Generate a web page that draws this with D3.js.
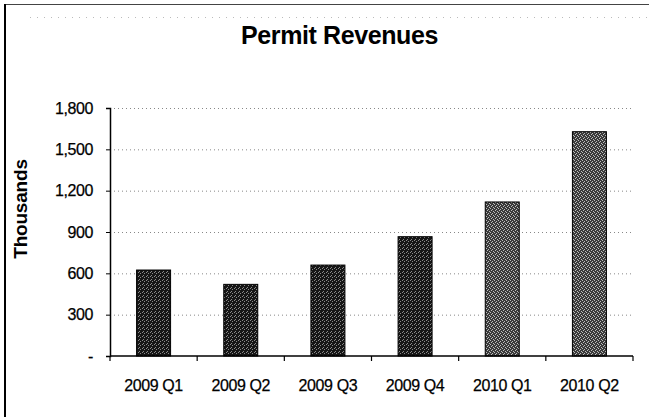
<!DOCTYPE html>
<html>
<head>
<meta charset="utf-8">
<script src="https://cdn.jsdelivr.net/npm/d3@7"></script>
<style>
  html, body { margin: 0; padding: 0; background: #fff; }
  svg { display: block; }
  text { font-family: "Liberation Sans", Arial, sans-serif; fill: #000; }
</style>
</head>
<body>
<svg id="chart" width="649" height="417"></svg>
<script>
// Quarterly permit revenues, in thousands
const quarters = ["2009 Q1", "2009 Q2", "2009 Q3", "2009 Q4", "2010 Q1", "2010 Q2"];
const revenues = [624, 520, 660, 866, 1118, 1628];
const shades   = ["dark", "dark", "dark", "dark", "light", "light"];
const yTicks   = [0, 300, 600, 900, 1200, 1500, 1800];

const svg = d3.select("#chart");
const margin = { top: 108, right: 16, bottom: 61, left: 110 };
const W = 649, H = 417;
const innerW = W - margin.left - margin.right;
const innerH = H - margin.top - margin.bottom;

// textured fills for the two bar shades
const defs = svg.append("defs");
function dither(id, base, speck, cells) {
  const p = defs.append("pattern").attr("id", id)
    .attr("patternUnits", "userSpaceOnUse").attr("width", 4).attr("height", 4);
  p.append("rect").attr("width", 4).attr("height", 4).attr("fill", base);
  cells.forEach(([cx, cy]) => p.append("rect").attr("x", cx).attr("y", cy)
    .attr("width", 1).attr("height", 1).attr("fill", speck));
}
dither("fillDark", "#161616", "#8a8a8a", [[0, 0], [2, 1], [1, 3]]);
dither("fillLight", "#3a3a3a", "#bdbdbd", [[0, 0], [2, 1], [3, 3], [1, 2]]);

// outer frame
svg.append("line").attr("x1", 5).attr("x2", W).attr("y1", 4.5).attr("y2", 4.5)
  .attr("stroke", "#444").attr("stroke-width", 1);
svg.append("line").attr("x1", 5).attr("x2", 5).attr("y1", 4).attr("y2", H)
  .attr("stroke", "#000").attr("stroke-width", 2);
svg.append("line").attr("x1", 30).attr("x2", W).attr("y1", 17.5).attr("y2", 17.5)
  .attr("stroke", "#bbb").attr("stroke-width", 1).attr("stroke-dasharray", "1,6");

const g = svg.append("g").attr("transform", `translate(${margin.left},${margin.top})`);

const x = d3.scaleBand().domain(quarters).range([0, innerW])
  .paddingInner(0.61).paddingOuter(0.305);
const y = d3.scaleLinear().domain([0, 1800]).range([innerH, 0]);

// dotted gridlines
g.append("g").selectAll("line").data(yTicks.filter(d => d > 0)).join("line")
  .attr("x1", 0).attr("x2", innerW)
  .attr("y1", d => y(d) + 0.5).attr("y2", d => y(d) + 0.5)
  .attr("stroke", "#888").attr("stroke-width", 1).attr("stroke-dasharray", "1,3");

// bars
g.append("g").selectAll("rect").data(quarters).join("rect")
  .attr("x", d => x(d))
  .attr("y", (d, i) => y(revenues[i]))
  .attr("width", x.bandwidth())
  .attr("height", (d, i) => innerH - y(revenues[i]))
  .attr("fill", (d, i) => shades[i] === "dark" ? "url(#fillDark)" : "url(#fillLight)")
  .attr("stroke", "#000").attr("stroke-width", 1);

// y axis
const yAxis = d3.axisLeft(y).tickValues(yTicks).tickSize(4).tickPadding(13)
  .tickFormat(d => d === 0 ? "-" : d3.format(",")(d));
const ya = g.append("g").call(yAxis);
ya.select(".domain").attr("stroke", "#000").attr("stroke-width", 1.5);
ya.selectAll(".tick line").attr("stroke", "#000");
ya.selectAll("text").style("font-size", "16px").style("letter-spacing", "-0.4px")
  .attr("fill", "#000").attr("stroke", "#000").attr("stroke-width", 0.25);

// x axis with ticks between categories
const step = x.step();
const boundaries = d3.range(quarters.length + 1).map(i => i * step);
g.append("line").attr("x1", 0).attr("x2", innerW).attr("y1", innerH).attr("y2", innerH)
  .attr("stroke", "#000").attr("stroke-width", 1.5);
g.append("g").selectAll("line").data(boundaries).join("line")
  .attr("x1", d => d).attr("x2", d => d)
  .attr("y1", innerH).attr("y2", innerH + 5)
  .attr("stroke", "#000").attr("stroke-width", 1.2);
g.append("g").selectAll("text").data(quarters).join("text")
  .attr("x", d => x(d) + x.bandwidth() / 2)
  .attr("y", innerH + 35)
  .attr("text-anchor", "middle")
  .attr("stroke", "#000").attr("stroke-width", 0.25)
  .style("font-size", "16px").style("letter-spacing", "-0.4px")
  .text(d => d);

// title
svg.append("text").attr("x", 339.5).attr("y", 44)
  .attr("text-anchor", "middle")
  .style("font-size", "25px").style("font-weight", "bold").style("letter-spacing", "-0.4px")
  .text("Permit Revenues");

// y axis title
svg.append("text")
  .attr("transform", `translate(27,209) rotate(-90)`)
  .attr("text-anchor", "middle")
  .style("font-size", "19px").style("font-weight", "bold").style("letter-spacing", "-0.2px")
  .text("Thousands");
</script>
</body>
</html>
